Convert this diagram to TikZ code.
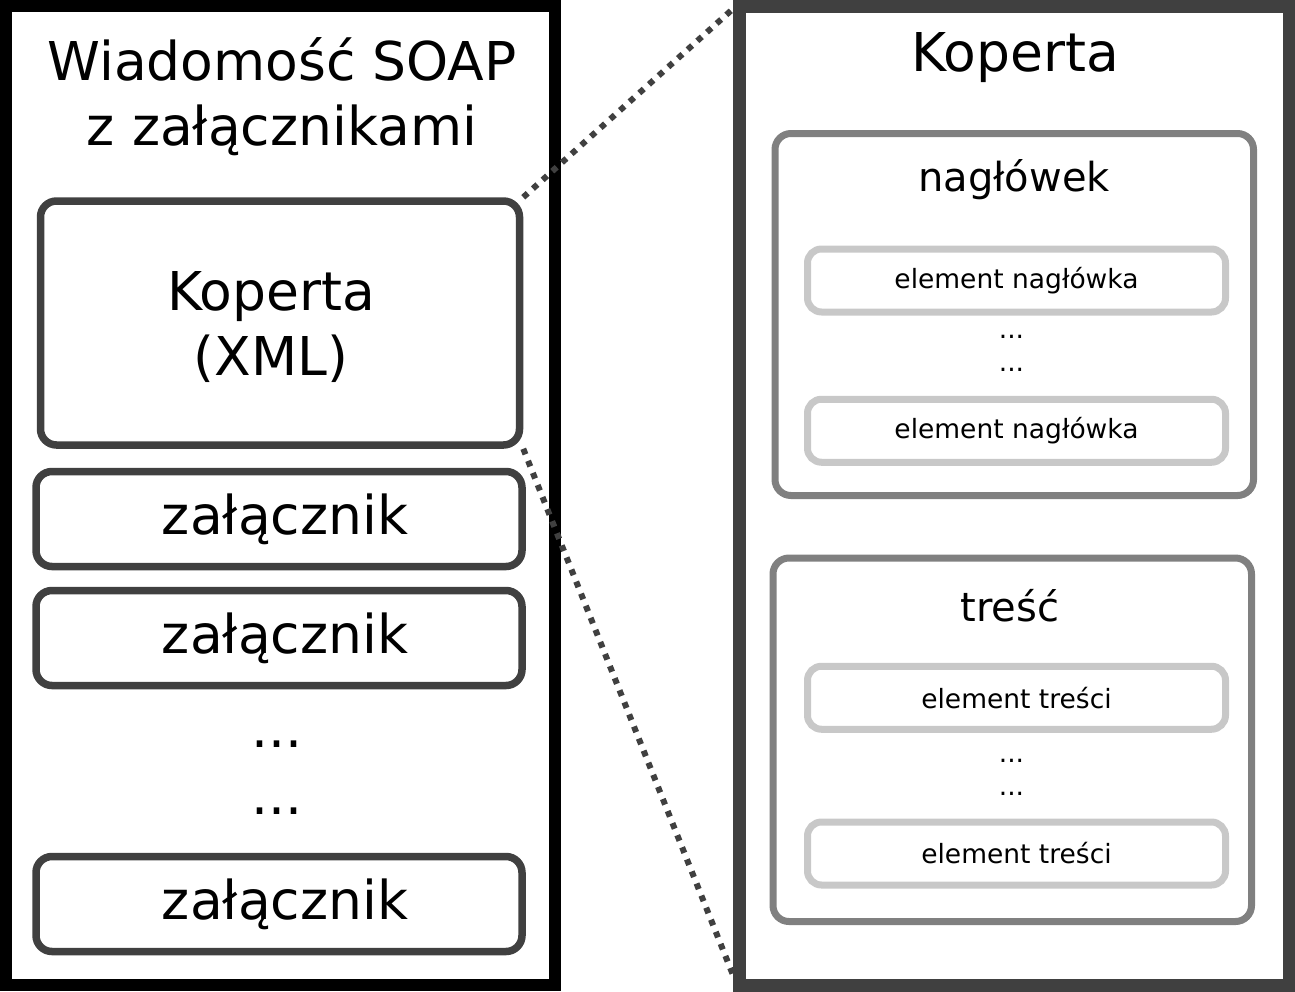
\documentclass[tikz,border=0pt]{standalone}
\usepackage{fontspec}
\setmainfont{DejaVu Sans}
\usepackage{tikz}
\usetikzlibrary{positioning,calc}
\definecolor{soapdark}{HTML}{404040}
\definecolor{soapmid}{HTML}{808080}
\definecolor{soaplight}{HTML}{C8C8C8}
\newcommand{\fsbig}{\fontsize{53.5}{65}\selectfont}
\newcommand{\fsmid}{\fontsize{40}{48}\selectfont}
\newcommand{\fssmall}{\fontsize{26.5}{32}\selectfont}

\begin{document}
\begin{tikzpicture}[x=1pt,y=-1pt,
  outerbox/.style={draw,inner sep=0pt,minimum width=549pt,minimum height=979pt},
  partbox/.style={draw=soapdark,line width=7.5pt,rounded corners=16pt,inner sep=0pt},
  groupbox/.style={draw=soapmid,line width=7pt,rounded corners=16pt,inner sep=0pt,minimum width=478.5pt},
  itembox/.style={draw=soaplight,line width=7pt,rounded corners=14pt,inner sep=0pt,minimum width=418pt,minimum height=63pt,font=\fssmall},
  zoomline/.style={draw=soapdark,line width=6pt,dash pattern=on 6pt off 7pt}]
  \useasboundingbox (0,0) rectangle (1295,991);

  % SOAP message with attachments
  \node[outerbox,draw=black,line width=12pt] (msg) at (280.5,495.5) {};
  \node[font=\fsbig,align=center] (msgtitle) at (282,97) {Wiadomość SOAP\\z załącznikami};
  \node[partbox,minimum width=479pt,minimum height=244pt] (env) at (280,323) {};
  \node[font=\fsbig,align=center] (envtext) at ([xshift=-9pt,yshift=-4pt]env.center) {Koperta\\(XML)};
  \node[partbox,minimum width=486pt,minimum height=95pt] (att1) at (279,519) {};
  \node[font=\fsbig] (att1text) at ([xshift=6pt]att1.center) {załącznik};
  \node[partbox,minimum width=486pt,minimum height=95pt] (att2) at (279,638) {};
  \node[font=\fsbig] (att2text) at ([xshift=6pt]att2.center) {załącznik};
  \node[font=\fsbig] (attdots1) at (277,744) {...};
  \node[font=\fsbig] (attdots2) at (277,811) {...};
  \node[partbox,minimum width=486pt,minimum height=95pt] (att3) at (279,904) {};
  \node[font=\fsbig] (att3text) at ([xshift=6pt]att3.center) {załącznik};

  % Envelope in detail
  \node[outerbox,draw=soapdark,line width=13pt,minimum width=549.5pt] (kop) at (1014.25,495.5) {};
  \node[font=\fsbig] (koptitle) at (1015,58) {Koperta};

  % header
  \node[groupbox,minimum height=362pt] (hdr) at (1014.25,314.5) {};
  \node[font=\fsmid] (hdrtitle) at (1014,180) {nagłówek};
  \node[itembox] (hdr1) at (1016.5,280.5) {element nagłówka};
  \node[font=\fssmall] (hdrdots1) at (1011.5,336.5) {...};
  \node[font=\fssmall] (hdrdots2) at (1011.5,370) {...};
  \node[itembox] (hdr2) at (1016.5,430.75) {element nagłówka};

  % body
  \node[groupbox,minimum height=363.5pt] (body) at (1012.25,739.75) {};
  \node[font=\fsmid] (bodytitle) at (1010,606) {treść};
  \node[itembox] (body1) at (1016.5,697.75) {element treści};
  \node[font=\fssmall] (bodydots1) at (1011.5,760.5) {...};
  \node[font=\fssmall] (bodydots2) at (1011.5,794) {...};
  \node[itembox] (body2) at (1016.5,853.5) {element treści};

  % zoom lines
  \coordinate (kopNW) at (735,7);
  \coordinate (kopSW) at (733,975);
  \draw[zoomline] (env.north east) -- (kopNW);
  \draw[zoomline] (env.south east) -- (kopSW);
\end{tikzpicture}
\end{document}
